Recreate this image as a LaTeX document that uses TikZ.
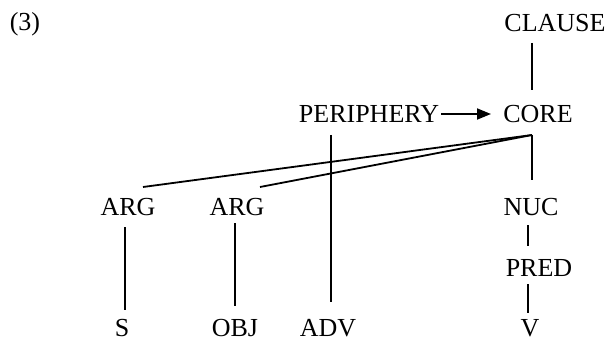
\documentclass[tikz,border=0pt]{standalone}
\usepackage{fontspec}
\setmainfont{Liberation Serif}
\usetikzlibrary{arrows.meta}
\begin{document}
\begin{tikzpicture}[x=1pt,y=-1pt,
  lbl/.style={inner sep=0pt,anchor=base,font=\fontsize{26}{30}\selectfont},
  edge/.style={line width=1.8pt}]
\useasboundingbox (0,0) rectangle (610,342);
\node[lbl] (ex) at (25,31) {(3)};
\node[lbl] (clause) at (555,32) {CLAUSE};
\node[lbl] (core) at (538,122) {CORE};
\node[lbl] (peri) at (369,122) {PERIPHERY};
\node[lbl] (arg1) at (128,215) {ARG};
\node[lbl] (arg2) at (237,215) {ARG};
\node[lbl] (nuc) at (531,215) {NUC};
\node[lbl] (pred) at (539,276) {PRED};
\node[lbl] (s) at (122,336) {S};
\node[lbl] (obj) at (235,336) {OBJ};
\node[lbl] (adv) at (328,336) {ADV};
\node[lbl] (v) at (530,336) {V};
% attachment points
\coordinate (clB) at (532,43);
\coordinate (coT) at (532,90);
\coordinate (coB) at (532,135);
\coordinate (a1T) at (143,187);
\coordinate (a2T) at (260,187);
\coordinate (nuT) at (532,180);
\coordinate (nuB) at (528,225);
\coordinate (prT) at (528,246);
\coordinate (prB) at (528,284);
\coordinate (vT) at (528,313);
\coordinate (a1B) at (125,227);
\coordinate (sT) at (125,310);
\coordinate (a2B) at (235,223);
\coordinate (obT) at (235,306);
\coordinate (peB) at (331,135);
\coordinate (adT) at (331,302);
\coordinate (peR) at (441,114);
\coordinate (coL) at (491,114);
\draw[edge] (clB) -- (coT);
\draw[edge] (coB) -- (a1T);
\draw[edge] (coB) -- (a2T);
\draw[edge] (coB) -- (nuT);
\draw[edge] (nuB) -- (prT);
\draw[edge] (prB) -- (vT);
\draw[edge] (a1B) -- (sT);
\draw[edge] (a2B) -- (obT);
\draw[edge] (peB) -- (adT);
\draw[edge,-{Triangle[length=14pt,width=11pt]}] (peR) -- (coL);
\end{tikzpicture}
\end{document}
